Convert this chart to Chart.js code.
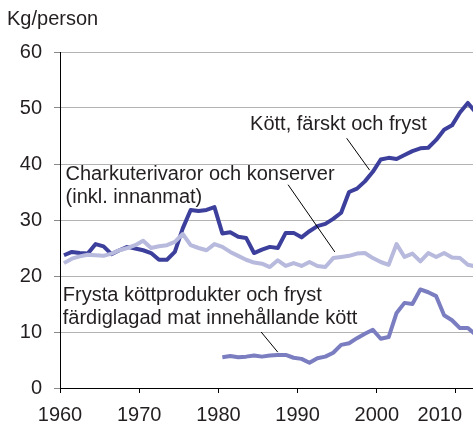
<!DOCTYPE html>
<html>
<head>
<meta charset="utf-8">
<script src="https://cdn.jsdelivr.net/npm/chart.js@4/dist/chart.umd.min.js"></script>
<style>
  html, body { margin: 0; padding: 0; background: #fff; }
  #wrap { width: 473px; height: 425px; position: relative; }
</style>
</head>
<body>
<div id="wrap"><canvas id="c" width="473" height="425"></canvas></div>
<script>
const years = [1960,1961,1962,1963,1964,1965,1966,1967,1968,1969,
               1970,1971,1972,1973,1974,1975,1976,1977,1978,1979,
               1980,1981,1982,1983,1984,1985,1986,1987,1988,1989,
               1990,1991,1992,1993,1994,1995,1996,1997,1998,1999,
               2000,2001,2002,2003,2004,2005,2006,2007,2008,2009,
               2010,2011,2012];

// Kött, färskt och fryst
const freshMeat = [23.7,24.3,24.1,24.0,25.7,25.3,23.9,24.6,25.2,24.9,
                   24.6,24.1,22.9,22.9,24.3,28.5,31.8,31.6,31.8,32.3,
                   27.6,27.8,27.0,26.8,24.1,24.7,25.2,25.0,27.7,27.7,
                   26.9,28.0,28.9,29.3,30.2,31.3,35.0,35.6,36.9,38.6,
                   40.8,41.1,40.9,41.6,42.3,42.8,42.9,44.3,46.1,46.9,
                   49.2,50.9,49.2];

// Charkuterivaror och konserver (inkl. innanmat)
const charcuterie = [22.3,23.1,23.5,23.8,23.7,23.6,24.0,24.6,25.0,25.5,
                     26.3,25.0,25.3,25.5,26.1,27.5,25.5,25.0,24.6,25.7,
                     25.2,24.3,23.6,22.9,22.4,22.2,21.6,22.8,21.8,22.3,
                     21.8,22.5,21.8,21.6,23.2,23.4,23.6,24.0,24.1,23.2,
                     22.5,22.0,25.7,23.4,24.0,22.6,24.1,23.4,24.1,23.3,
                     23.2,22.0,21.7];

// Frysta köttprodukter och fryst färdiglagad mat innehållande kött (from 1980)
const frozenYears = [1980,1981,1982,1983,1984,1985,1986,1987,1988,1989,
                     1990,1991,1992,1993,1994,1995,1996,1997,1998,1999,
                     2000,2001,2002,2003,2004,2005,2006,2007,2008,2009,
                     2010,2011,2012];
const frozenProducts = [5.5,5.7,5.5,5.6,5.8,5.6,5.8,5.9,5.9,5.4,
                        5.2,4.5,5.3,5.6,6.3,7.7,8.0,8.9,9.7,10.4,
                        8.8,9.1,13.4,15.2,15.0,17.6,17.1,16.4,13.0,12.1,
                        10.7,10.7,9.5];

const xTickLabels = [1960,1970,1980,1990,2000,2010];
const yTickLabels = [0,10,20,30,40,50,60];

const unitLabel = 'Kg/person';
const seriesLabels = {
  fresh: ['Kött, färskt och fryst'],
  charc: ['Charkuterivaror och konserver', '(inkl. innanmat)'],
  frozen: ['Frysta köttprodukter och fryst', 'färdiglagad mat innehållande kött']
};

const FONT = '"Liberation Sans", Arial, sans-serif';
const TEXT = '#231f20';

// values are plotted at mid-year
const pts = (xs, ys) => xs.map((y, i) => ({ x: y + 0.5, y: ys[i] }));

const annotations = {
  id: 'annotations',
  afterDraw(chart) {
    const { ctx, scales: { x, y } } = chart;
    const px = v => x.getPixelForValue(v);
    const py = v => y.getPixelForValue(v);
    ctx.save();
    ctx.fillStyle = TEXT;
    ctx.font = '20px ' + FONT;
    ctx.textBaseline = 'middle';
    ctx.textAlign = 'left';
    ctx.fillText(unitLabel, 7, 19);
    const drawLines = (lines, xv, yv, gap) => {
      lines.forEach((t, i) => ctx.fillText(t, px(xv), py(yv) + i * gap));
    };
    drawLines(seriesLabels.fresh, 1984.0, 47.0, 0);
    drawLines(seriesLabels.charc, 1960.7, 38.1, 23);
    drawLines(seriesLabels.frozen, 1960.35, 16.6, 23);

    // x tick labels, kept inside the canvas like the original
    ctx.textAlign = 'center';
    const labelY = x.top + 27;
    xTickLabels.forEach(v => {
      const t = String(v);
      const w = ctx.measureText(t).width;
      let cx = px(v);
      const maxRight = chart.width - 11;
      if (cx + w / 2 > maxRight) cx = maxRight - w / 2;
      ctx.fillText(t, cx, labelY);
    });

    ctx.strokeStyle = '#000';
    ctx.lineWidth = 1;
    const leader = (x1, y1, x2, y2) => {
      ctx.beginPath();
      ctx.moveTo(px(x1), py(y1));
      ctx.lineTo(px(x2), py(y2));
      ctx.stroke();
    };
    leader(1996.2, 44.6, 1999.1, 38.9);
    leader(1988.8, 36.3, 1994.7, 24.3);
    leader(1985.4, 10.0, 1987.5, 6.4);
    ctx.restore();
  }
};

new Chart(document.getElementById('c'), {
  type: 'line',
  data: {
    datasets: [
      {
        label: seriesLabels.charc.join(' '),
        data: pts(years, charcuterie),
        borderColor: '#b7b9dd',
        borderWidth: 4,
        order: 0
      },
      {
        label: seriesLabels.fresh[0],
        data: pts(years, freshMeat),
        borderColor: '#3c3f9b',
        borderWidth: 4,
        order: 1
      },
      {
        label: seriesLabels.frozen.join(' '),
        data: pts(frozenYears, frozenProducts),
        borderColor: '#7b7dc1',
        borderWidth: 4,
        order: 2
      }
    ]
  },
  options: {
    responsive: false,
    animation: false,
    devicePixelRatio: 1,
    layout: { padding: { top: 52, left: 0, right: 0, bottom: 0 } },
    elements: {
      point: { radius: 0 },
      line: { tension: 0, borderJoinStyle: 'round', borderCapStyle: 'butt', fill: false }
    },
    plugins: {
      legend: { display: false },
      tooltip: { enabled: false }
    },
    scales: {
      x: {
        type: 'linear',
        min: 1960,
        max: 2012.15,
        afterBuildTicks: s => { s.ticks = xTickLabels.map(v => ({ value: v })); },
        afterFit: s => { s.height = 37; s.paddingLeft = 0; s.paddingRight = 0; },
        border: { display: true, color: '#000', width: 1 },
        grid: { drawOnChartArea: false, drawTicks: true, tickLength: 5, tickColor: '#000' },
        ticks: {
          display: false,
          autoSkip: false,
          maxRotation: 0
        }
      },
      y: {
        type: 'linear',
        min: 0,
        max: 60,
        afterBuildTicks: s => { s.ticks = yTickLabels.map(v => ({ value: v })); },
        afterFit: s => { s.width = 60; s.paddingTop = 0; s.paddingBottom = 0; },
        border: { display: true, color: '#000', width: 1 },
        grid: { color: '#b3b3b3', lineWidth: 1, drawTicks: true, tickLength: 6, tickColor: '#888' },
        ticks: {
          padding: 12,
          color: TEXT,
          font: { family: FONT, size: 20 },
          callback: v => String(v)
        }
      }
    }
  },
  plugins: [annotations]
});
</script>
</body>
</html>
